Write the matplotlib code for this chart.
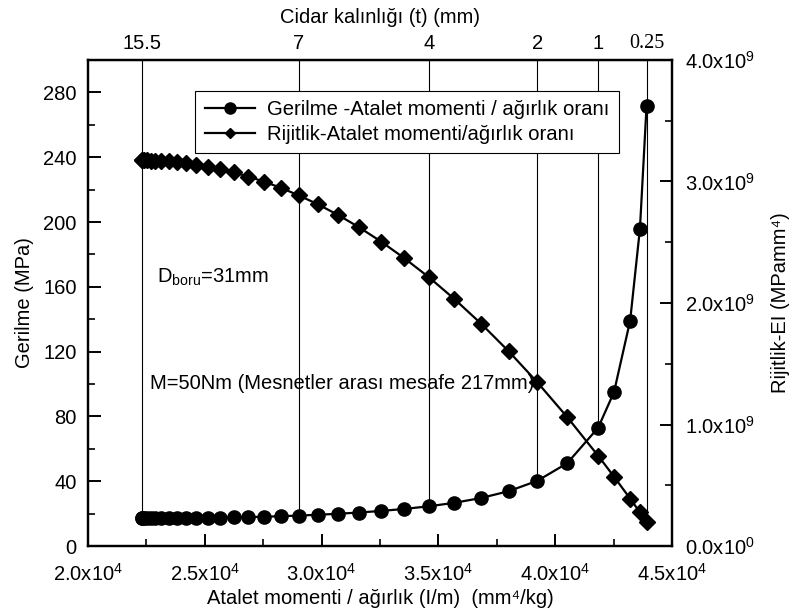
import matplotlib
matplotlib.use("Agg")
import matplotlib.pyplot as plt
from matplotlib.ticker import MultipleLocator, FixedLocator
from matplotlib.lines import Line2D

plt.rcParams['font.family'] = ['Liberation Sans', 'DejaVu Sans']
plt.rcParams['mathtext.fontset'] = 'custom'
plt.rcParams['mathtext.rm'] = 'Liberation Sans'
plt.rcParams['mathtext.it'] = 'Liberation Sans:italic'

# ---- data ----
# wall thickness t (mm) of each point
thickness = [15.5, 15, 14.5, 14, 13.5, 13, 12.5, 12, 11.5, 11, 10.5, 10, 9.5, 9,
             8.5, 8, 7.5, 7, 6.5, 6, 5.5, 5, 4.5, 4, 3.5, 3, 2.5, 2, 1.5, 1,
             0.75, 0.5, 0.35, 0.25]
# moment of inertia / weight ratio (mm^4/kg)
inertia_ratio = [22312, 22335, 22405, 22521, 22684, 22892, 23148, 23450, 23798,
                 24193, 24634, 25121, 25655, 26236, 26863, 27536, 28256, 29022,
                 29835, 30694, 31599, 32551, 33549, 34594, 35685, 36823, 38007,
                 39238, 40515, 41838, 42517, 43208, 43627, 43910]
# stress (MPa)
stress = [17.10, 17.10, 17.10, 17.10, 17.10, 17.11, 17.12, 17.14, 17.17, 17.22,
          17.28, 17.37, 17.49, 17.64, 17.84, 18.09, 18.40, 18.80, 19.29, 19.90,
          20.68, 21.66, 22.91, 24.53, 26.68, 29.63, 33.84, 40.27, 51.12, 73.01,
          95.0, 139.1, 195.8, 271.5]
# rigidity EI (MPa mm^4)
rigidity = [3.173e9, 3.173e9, 3.173e9, 3.173e9, 3.172e9, 3.171e9, 3.169e9,
            3.165e9, 3.159e9, 3.151e9, 3.139e9, 3.123e9, 3.102e9, 3.075e9,
            3.041e9, 2.999e9, 2.948e9, 2.886e9, 2.813e9, 2.726e9, 2.624e9,
            2.505e9, 2.368e9, 2.212e9, 2.033e9, 1.831e9, 1.603e9, 1.347e9,
            1.061e9, 0.743e9, 0.571e9, 0.390e9, 0.277e9, 0.200e9]

top_tick_thickness = [15.5, 7, 4, 2, 1, 0.25]
top_tick_labels = ['15.5', '7', '4', '2', '1', '0.25']
guide_to = ['stress', 'stress', 'stress', 'stress', 'stress', 'rigidity']

x_ticks = [20000, 25000, 30000, 35000, 40000, 45000]
x_tick_labels = [r'$\mathregular{2.0x10^{4}}$', r'$\mathregular{2.5x10^{4}}$',
                 r'$\mathregular{3.0x10^{4}}$', r'$\mathregular{3.5x10^{4}}$',
                 r'$\mathregular{4.0x10^{4}}$', r'$\mathregular{4.5x10^{4}}$']
y_left_ticks = [0, 40, 80, 120, 160, 200, 240, 280]
y_right_ticks = [0, 1e9, 2e9, 3e9, 4e9]
y_right_labels = [r'$\mathregular{0.0x10^{0}}$', r'$\mathregular{1.0x10^{9}}$',
                  r'$\mathregular{2.0x10^{9}}$', r'$\mathregular{3.0x10^{9}}$',
                  r'$\mathregular{4.0x10^{9}}$']

FS = 14.5

fig = plt.figure(figsize=(7.92, 6.14), dpi=100)
ax = fig.add_axes([0.111, 0.1107, 0.7375, 0.7916])
ax2 = ax.twinx()

ax.set_xlim(20000, 45000)
ax.set_ylim(0, 300)
ax2.set_ylim(0, 4e9)

# curves
ax.plot(inertia_ratio, stress, '-', color='black', lw=1.6,
        marker='o', ms=9.5, mfc='black', mec='black', zorder=5)
ax2.plot(inertia_ratio, rigidity, '-', color='black', lw=1.6,
         marker='D', ms=7.8, mfc='black', mec='black', zorder=5)

# thickness guide lines from the top axis down to the data point
top_x = []
for t, target in zip(top_tick_thickness, guide_to):
    i = thickness.index(t)
    x = inertia_ratio[i]
    top_x.append(x)
    if target == 'stress':
        ax.vlines(x, stress[i], 300, color='black', lw=0.8, zorder=1)
    else:
        ax2.vlines(x, rigidity[i], 4e9, color='black', lw=0.8, zorder=1)

# axes styling
for a in (ax, ax2):
    for s in a.spines.values():
        s.set_linewidth(1.6)

ax.xaxis.set_major_locator(FixedLocator(x_ticks))
ax.set_xticklabels(x_tick_labels, fontsize=FS)
ax.xaxis.set_minor_locator(MultipleLocator(2500))
ax.yaxis.set_major_locator(FixedLocator(y_left_ticks))
ax.set_yticklabels([str(v) for v in y_left_ticks], fontsize=FS)
ax.yaxis.set_minor_locator(MultipleLocator(20))
ax.tick_params(axis='both', which='major', direction='in', length=9, width=1.4)
ax.tick_params(axis='both', which='minor', direction='in', length=5, width=1.2)
ax.tick_params(axis='x', which='both', top=False, pad=12)
ax.tick_params(axis='y', which='both', right=False, pad=8)

ax2.yaxis.set_major_locator(FixedLocator(y_right_ticks))
ax2.set_yticklabels(y_right_labels, fontsize=FS)
ax2.yaxis.set_minor_locator(MultipleLocator(5e8))
ax2.tick_params(axis='y', which='major', direction='in', length=9, width=1.4, pad=9)
ax2.tick_params(axis='y', which='minor', direction='in', length=5, width=1.2)

ax.set_xlabel('Atalet momenti / ağırlık (I/m)  (mm⁴/kg)', fontsize=FS, labelpad=3)
ax.set_ylabel('Gerilme (MPa)', fontsize=FS, labelpad=7)
ax2.set_ylabel('Rijitlik-EI (MPamm⁴)', fontsize=FS, labelpad=12)

# top axis (wall thickness)
sec = ax.secondary_xaxis('top')
sec.set_xticks(top_x)
sec.set_xticklabels(top_tick_labels, fontsize=FS)
sec.tick_params(axis='x', length=0, pad=5)
sec.set_xlabel('Cidar kalınlığı (t) (mm)', fontsize=FS, labelpad=8)
for lbl in sec.get_xticklabels():
    if lbl.get_text() == '0.25':
        lbl.set_fontfamily('Liberation Serif')

# annotations
ax.text(0.118, 0.552, r'D$_{\mathregular{boru}}$=31mm', transform=ax.transAxes,
        fontsize=FS, va='center', ha='left')
ax.text(0.106, 0.335, 'M=50Nm (Mesnetler arası mesafe 217mm)', transform=ax.transAxes,
        fontsize=FS, va='center', ha='left')

# legend
h1 = Line2D([], [], color='black', lw=1.6, marker='o', ms=8, mfc='black')
h2 = Line2D([], [], color='black', lw=1.6, marker='D', ms=5.5, mfc='black')
leg = ax2.legend([h1, h2], ['Gerilme -Atalet momenti / ağırlık oranı',
                            'Rijitlik-Atalet momenti/ağırlık oranı'],
                 loc='upper left', bbox_to_anchor=(0.184, 0.936),
                 fontsize=14.6, frameon=True, fancybox=False, framealpha=1,
                 edgecolor='black', handlelength=2.5, borderpad=0.45,
                 labelspacing=0.3, handletextpad=0.6, borderaxespad=0)
leg.get_frame().set_linewidth(0.8)
leg.set_zorder(10)

fig.savefig('out.png', dpi=100)
